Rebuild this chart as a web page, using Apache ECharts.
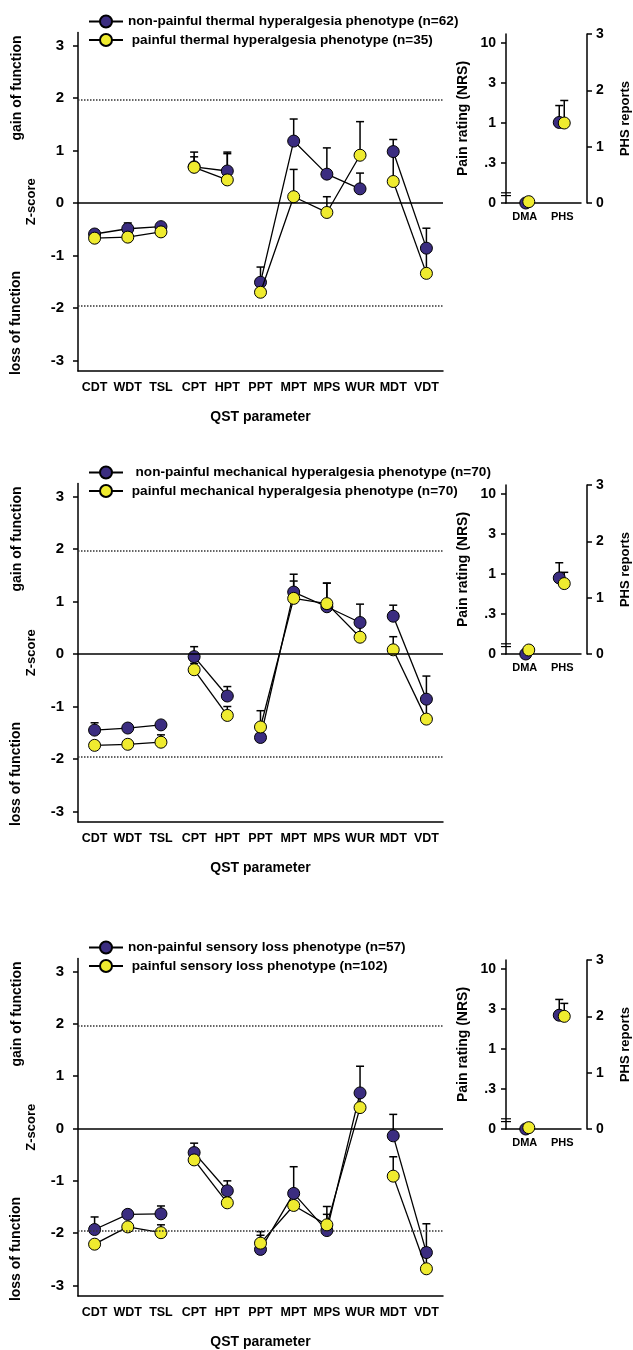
<!DOCTYPE html>
<html>
<head>
<meta charset="utf-8">
<script src="https://cdn.jsdelivr.net/npm/echarts@6/dist/echarts.min.js"></script>
<style>
  html, body { margin: 0; padding: 0; background: #fff; }
  #chart { width: 633px; height: 1350px; }
</style>
</head>
<body>
<div id="chart"></div>
<script>
// QST parameters on the x axis, lines only join points inside a group
const categories = ['CDT', 'WDT', 'TSL', 'CPT', 'HPT', 'PPT', 'MPT', 'MPS', 'WUR', 'MDT', 'VDT'];
const lineGroups = [[0, 1, 2], [3, 4], [5, 6, 7, 8], [9, 10]];
const zTicks = [-3, -2, -1, 0, 1, 2, 3];
const painCategories = ['DMA', 'PHS'];
const nrsTicks = [0, 0.3, 1, 3, 10];
const nrsTickLabels = ['0', '.3', '1', '3', '10'];
const phsTicks = [0, 1, 2, 3];

// thermal hyperalgesia phenotype
const thermalNames = ['non-painful thermal hyperalgesia phenotype (n=62)', ' painful thermal hyperalgesia phenotype (n=35)'];
const thermalNonPainful = [-0.59, -0.49, -0.45, 0.69, 0.61, -1.51, 1.18, 0.55, 0.27, 0.98, -0.86];
const thermalNonPainfulSem = [0.07, 0.11, 0.03, 0.28, 0.36, 0.29, 0.42, 0.50, 0.30, 0.23, 0.38];
const thermalPainful = [-0.67, -0.65, -0.55, 0.68, 0.44, -1.70, 0.12, -0.18, 0.91, 0.41, -1.34];
const thermalPainfulSem = [0.05, 0.05, 0.05, 0.20, 0.50, 0.20, 0.52, 0.30, 0.64, 0.50, 0.55];
const thermalDma = [0, 0.01];        // NRS: non-painful, painful
const thermalPhs = [1.43, 1.42];     // PHS reports
const thermalPhsSem = [0.30, 0.40];

// mechanical hyperalgesia phenotype
const mechNames = ['  non-painful mechanical hyperalgesia phenotype (n=70)', ' painful mechanical hyperalgesia phenotype (n=70)'];
const mechNonPainful = [-1.45, -1.41, -1.35, -0.05, -0.80, -1.59, 1.18, 0.90, 0.60, 0.72, -0.86];
const mechNonPainfulSem = [0.14, 0.05, 0.05, 0.19, 0.18, 0.20, 0.34, 0.45, 0.35, 0.21, 0.44];
const mechPainful = [-1.74, -1.72, -1.68, -0.30, -1.17, -1.39, 1.06, 0.96, 0.32, 0.08, -1.24];
const mechPainfulSem = [0.05, 0.05, 0.14, 0.12, 0.17, 0.31, 0.33, 0.39, 0.25, 0.25, 0.40];
const mechDma = [0, 0.03];
const mechPhs = [1.35, 1.25];
const mechPhsSem = [0.27, 0.20];

// sensory loss phenotype
const lossNames = ['non-painful sensory loss phenotype (n=57)', ' painful sensory loss phenotype (n=102)'];
const lossNonPainful = [-1.93, -1.64, -1.63, -0.46, -1.19, -2.31, -1.24, -1.95, 0.68, -0.14, -2.37];
const lossNonPainfulSem = [0.24, 0.06, 0.15, 0.18, 0.19, 0.34, 0.51, 0.46, 0.51, 0.41, 0.55];
const lossPainful = [-2.21, -1.88, -1.99, -0.60, -1.42, -2.19, -1.47, -1.84, 0.40, -0.91, -2.68];
const lossPainfulSem = [0.05, 0.05, 0.15, 0.10, 0.10, 0.15, 0.20, 0.20, 0.25, 0.37, 0.40];
const lossDma = [0, 0.01];
const lossPhs = [2.02, 2.00];
const lossPhsSem = [0.28, 0.23];

const colors = ['#3b2d80', '#efeb2f'];
const font = '"Liberation Sans", Arial, sans-serif';
const panelTops = [0, 451, 926];

// pain axis: equal spacing between 0 | .3 | 1 | 3 | 10, log inside, linear under the break
function nrsToAxis(v) {
  for (let i = 0; i < nrsTicks.length - 1; i++) {
    const a = nrsTicks[i], b = nrsTicks[i + 1];
    if (v <= b || i === nrsTicks.length - 2) {
      if (a === 0) return i + v / b;
      return i + Math.log(v / a) / Math.log(b / a);
    }
  }
}
const nrsAxisTicks = nrsTicks.map(nrsToAxis);

function errorBarRender(dx) {
  return function (params, api) {
    const base = api.coord([api.value(0), api.value(1)]);
    const top = api.coord([api.value(0), api.value(2)]);
    const x = base[0] + dx;
    const st = { stroke: '#000', lineWidth: 1.5 };
    return {
      type: 'group',
      children: [
        { type: 'line', shape: { x1: x, y1: base[1], x2: x, y2: top[1] }, style: st },
        { type: 'line', shape: { x1: x - 4, y1: top[1], x2: x + 4, y2: top[1] }, style: st }
      ]
    };
  };
}

const panels = [
  { names: thermalNames, z: [thermalNonPainful, thermalPainful], sem: [thermalNonPainfulSem, thermalPainfulSem], dma: thermalDma, phs: thermalPhs, phsSem: thermalPhsSem },
  { names: mechNames, z: [mechNonPainful, mechPainful], sem: [mechNonPainfulSem, mechPainfulSem], dma: mechDma, phs: mechPhs, phsSem: mechPhsSem },
  { names: lossNames, z: [lossNonPainful, lossPainful], sem: [lossNonPainfulSem, lossPainfulSem], dma: lossDma, phs: lossPhs, phsSem: lossPhsSem }
];

const axisLineStyle = { color: '#000', width: 1.5 };
const option = {
  animation: false,
  backgroundColor: '#fff',
  textStyle: { fontFamily: font, fontWeight: 'bold', color: '#000' },
  grid: [], xAxis: [], yAxis: [], legend: [], series: [], graphic: []
};

panels.forEach((p, k) => {
  const off = panelTops[k];
  const gMain = 2 * k, gPain = 2 * k + 1;
  const yMain = 3 * k, yPain = 3 * k + 1, yPhs = 3 * k + 2;

  option.grid.push({ left: 78, top: 32.4 + off, width: 365, height: 338.6 });
  option.grid.push({ left: 506, top: 34 + off, width: 76, height: 169 });

  option.xAxis.push({
    gridIndex: gMain, type: 'category', data: categories, boundaryGap: true,
    name: 'QST parameter', nameLocation: 'middle', nameGap: 39,
    nameTextStyle: { fontSize: 14, fontWeight: 'bold', color: '#000', fontFamily: font },
    axisLine: { onZero: false, lineStyle: axisLineStyle },
    axisTick: { alignWithLabel: true, length: 5, lineStyle: axisLineStyle },
    axisLabel: { interval: 0, fontSize: 12.5, fontWeight: 'bold', color: '#000', margin: 10, fontFamily: font }
  });
  option.xAxis.push({
    gridIndex: gPain, type: 'category', data: painCategories, boundaryGap: true,
    axisLine: { onZero: false, lineStyle: axisLineStyle },
    axisTick: { alignWithLabel: true, length: 5, lineStyle: axisLineStyle },
    axisLabel: { interval: 0, fontSize: 11, fontWeight: 'bold', color: '#000', margin: 8, fontFamily: font }
  });

  option.yAxis.push({
    gridIndex: gMain, type: 'value', min: -3.2, max: 3.25,
    name: 'Z-score', nameLocation: 'middle', nameGap: 40,
    nameTextStyle: { fontSize: 13, fontWeight: 'bold', color: '#000', fontFamily: font },
    axisLine: { show: true, lineStyle: axisLineStyle },
    axisTick: { show: true, length: 5, customValues: zTicks, lineStyle: axisLineStyle },
    axisLabel: { customValues: zTicks, fontSize: 15, fontWeight: 'bold', color: '#000', margin: 14, fontFamily: font },
    splitLine: { show: false }
  });
  option.yAxis.push({
    gridIndex: gPain, type: 'value', min: 0, max: 4.225,
    name: 'Pain rating (NRS)', nameLocation: 'middle', nameGap: 36,
    nameTextStyle: { fontSize: 14, fontWeight: 'bold', color: '#000', fontFamily: font },
    axisLine: { show: true, lineStyle: axisLineStyle },
    axisTick: { show: true, length: 5, customValues: nrsAxisTicks, lineStyle: axisLineStyle },
    axisLabel: {
      customValues: nrsAxisTicks, fontSize: 14, fontWeight: 'bold', color: '#000', margin: 10, fontFamily: font,
      formatter: v => nrsTickLabels[nrsAxisTicks.findIndex(t => Math.abs(t - v) < 1e-6)]
    },
    splitLine: { show: false }
  });
  option.yAxis.push({
    gridIndex: gPain, type: 'value', position: 'right', offset: 6, min: 0, max: 3,
    name: 'PHS reports', nameLocation: 'middle', nameGap: 32,
    nameTextStyle: { fontSize: 13, fontWeight: 'bold', color: '#000', fontFamily: font },
    axisLine: { show: true, lineStyle: axisLineStyle },
    axisTick: { show: true, length: 5, customValues: phsTicks, lineStyle: axisLineStyle },
    axisLabel: { customValues: phsTicks, fontSize: 14, fontWeight: 'bold', color: '#000', margin: 9, fontFamily: font },
    splitLine: { show: false }
  });

  // zero line and the +/-1.96 limits
  option.series.push({
    type: 'line', xAxisIndex: gMain, yAxisIndex: yMain, data: [], z: 1, silent: true,
    markLine: {
      silent: true, symbol: ['none', 'none'], label: { show: false },
      data: [
        { yAxis: 0, lineStyle: { type: 'solid', width: 1.5, color: '#000' } },
        { yAxis: 1.96, lineStyle: { type: 'dotted', width: 1.5, color: '#333' } },
        { yAxis: -1.96, lineStyle: { type: 'dotted', width: 1.5, color: '#333' } }
      ]
    }
  });

  [0, 1].forEach(j => {
    const vals = p.z[j], sem = p.sem[j];
    const phsDx = j === 0 ? -3 : 2;
    const dmaDx = j === 0 ? 1 : 4;
    const pointStyle = { color: colors[j], borderColor: '#000', borderWidth: 1, opacity: 1 };
    option.series.push({
      type: 'custom', xAxisIndex: gMain, yAxisIndex: yMain, z: 2, silent: true,
      renderItem: errorBarRender(0), encode: { x: 0, y: [1, 2] },
      data: vals.map((v, i) => [i, v, v + sem[i]])
    });
    lineGroups.forEach(grp => {
      option.series.push({
        name: p.names[j], type: 'line', xAxisIndex: gMain, yAxisIndex: yMain, z: 3 + j,
        symbol: 'circle', symbolSize: 12, showSymbol: true,
        lineStyle: { color: '#000', width: 1.3 },
        itemStyle: pointStyle,
        data: grp.map(i => [categories[i], vals[i]])
      });
    });
    // pain rating (DMA) on left axis, PHS reports on right axis
    option.series.push({
      type: 'custom', xAxisIndex: gPain, yAxisIndex: yPhs, z: 2, silent: true,
      renderItem: errorBarRender(phsDx), encode: { x: 0, y: [1, 2] },
      data: [[1, p.phs[j], p.phs[j] + p.phsSem[j]]]
    });
    option.series.push({
      type: 'scatter', xAxisIndex: gPain, yAxisIndex: yPain, z: 3 + j,
      symbol: 'circle', symbolSize: 12, symbolOffset: [dmaDx, 0],
      itemStyle: pointStyle,
      data: [[0, nrsToAxis(p.dma[j])]]
    });
    option.series.push({
      type: 'scatter', xAxisIndex: gPain, yAxisIndex: yPhs, z: 3 + j,
      symbol: 'circle', symbolSize: 12, symbolOffset: [phsDx, 0],
      itemStyle: pointStyle,
      data: [[1, p.phs[j]]]
    });
  });

  option.legend.push({
    top: off + 9.5, left: 83, orient: 'vertical', itemGap: 4.5, itemWidth: 34, itemHeight: 15,
    selectedMode: false, data: p.names,
    textStyle: { fontSize: 13.6, fontWeight: 'bold', color: '#000', fontFamily: font }
  });

  const sideText = (txt, x, y) => ({
    type: 'text', x: x, y: y, rotation: Math.PI / 2, silent: true,
    style: { text: txt, fontSize: 14, fontWeight: 'bold', fontFamily: font, fill: '#000', align: 'center', verticalAlign: 'middle' }
  });
  option.graphic.push(sideText('gain of function', 17, 88 + off));
  option.graphic.push(sideText('loss of function', 16, 323 + off));

  // axis break mark on the pain rating axis
  const breakY = 34 + off + 169 * (1 - 0.22 / 4.225);
  [-1.4, 1.4].forEach(d => {
    option.graphic.push({
      type: 'line', silent: true,
      shape: { x1: 501, y1: breakY + d, x2: 511, y2: breakY + d },
      style: { stroke: '#000', lineWidth: 1.2 }
    });
  });
});

const chart = echarts.init(document.getElementById('chart'));
chart.setOption(option);
</script>
</body>
</html>
